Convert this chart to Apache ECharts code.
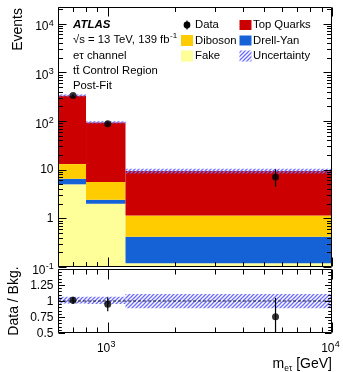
<!DOCTYPE html>
<html><head><meta charset="utf-8">
<script src="https://cdn.jsdelivr.net/npm/echarts@6/dist/echarts.min.js"></script>
<style>html,body{margin:0;padding:0;background:#fff;}#c{width:343px;height:372px;}</style>
</head><body><div id="c"></div>
<script>
// ---------------- data ----------------
const binEdges = [600, 800, 1200, 10000];
const fakeVals = [5.0, 2.0, 0.12];
const drellYanVals = [1.5, 0.4, 0.30];
const dibosonVals = [6.5, 3.2, 0.72];
const topQuarkVals = [317, 87.4, 8.26];
const uncLo = [0.96, 0.955, 0.885];
const uncHi = [1.065, 1.065, 1.11];
const dataX = [700, 1000, 5600];
const dataY = [334, 88, 7.1];
const dataLo = [316, 79, 4.5];
const dataHi = [352, 98, 10.2];
const ratioY = [1.01, 0.95, 0.755];
const ratioLo = [0.955, 0.84, 0.47];
const ratioHi = [1.065, 1.06, 1.05];
const yMainTickVals = [0.1, 1, 10, 100, 1000, 10000];
const yMainTickLabels = ['10^-1', '1', '10', '10^2', '10^3', '10^4'];
const yRatioTickVals = [0.5, 0.75, 1, 1.25];
const yRatioTickLabels = ['0.5', '0.75', '1', '1.25'];
const xTickVals = [1000, 10000];
const xTickLabels = ['10^3', '10^4'];

const X_MIN = 600, X_MAX = 10000, Y_MIN = 0.1, Y_MAX = 22000, R_MIN = 0.5, R_MAX = 1.5;
const FONT = '"Liberation Sans", Arial, Helvetica, sans-serif';
const LBL = 12, EXP = 9, LEG = 11.3, TITLE = 14;

const mctx = document.createElement('canvas').getContext('2d');
function tw(t, size, pre) { mctx.font = (pre || '') + ' ' + size + 'px ' + FONT; return mctx.measureText(t).width; }
function txt(x, y, text, size, align, valign, pre, extra) {
  return Object.assign({
    type: 'text', x: x, y: y, silent: true,
    style: { text: text, font: (pre || '') + ' ' + size + 'px ' + FONT, fill: '#000',
      align: align, textAlign: align, verticalAlign: valign, textVerticalAlign: valign }
  }, extra || {});
}
function seg(x1, y1, x2, y2, w) { return { type: 'line', silent: true, shape: { x1: x1, y1: y1, x2: x2, y2: y2 }, style: { stroke: '#000', lineWidth: w || 1 } }; }
function crisp(v) { return Math.round(v) + 0.5; }

function makeHatch() {
  const s = 4, c = document.createElement('canvas');
  c.width = s; c.height = s;
  const g = c.getContext('2d');
  g.strokeStyle = '#6b6bff'; g.lineWidth = 1.3;
  g.beginPath();
  g.moveTo(0, s); g.lineTo(s, 0);
  g.moveTo(-1, 1); g.lineTo(1, -1);
  g.moveTo(s - 1, s + 1); g.lineTo(s + 1, s - 1);
  g.stroke();
  return c;
}
const hatch = { image: makeHatch(), repeat: 'repeat' };

// ---------------- stacks ----------------
const components = [
  { name: 'Fake', vals: fakeVals, color: '#ffff99' },
  { name: 'Drell-Yan', vals: drellYanVals, color: '#1562d6' },
  { name: 'Diboson', vals: dibosonVals, color: '#ffcc00' },
  { name: 'Top Quarks', vals: topQuarkVals, color: '#cc0000' }
];
const totals = binEdges.slice(0, -1).map(() => 0);
function rectRenderer(fill) {
  return function (params, api) {
    const p1 = api.coord([api.value(0), api.value(3)]);
    const p2 = api.coord([api.value(1), api.value(2)]);
    return { type: 'rect', shape: { x: p1[0], y: p1[1], width: p2[0] - p1[0], height: p2[1] - p1[1] }, style: { fill: fill } };
  };
}
const stackSeries = components.map(c => {
  const data = c.vals.map((v, i) => {
    const lo = totals[i]; totals[i] += v;
    return [binEdges[i], binEdges[i + 1], lo === 0 ? Y_MIN : lo, totals[i]];
  });
  return { type: 'custom', name: c.name, xAxisIndex: 0, yAxisIndex: 0, z: 2, silent: true,
    encode: { x: [0, 1], y: [2, 3] }, data: data, renderItem: rectRenderer(c.color) };
});
const mainBand = totals.map((t, i) => [binEdges[i], binEdges[i + 1], t * uncLo[i], t * uncHi[i]]);
const ratioBand = uncLo.map((l, i) => [binEdges[i], binEdges[i + 1], l, uncHi[i]]);

function errRenderer(params, api) {
  const a = api.coord([api.value(0), api.value(1)]);
  const b = api.coord([api.value(0), api.value(2)]);
  return { type: 'line', shape: { x1: a[0], y1: a[1], x2: b[0], y2: b[1] }, style: { stroke: '#000', lineWidth: 1.2 } };
}

// ---------------- axes decoration ----------------
function pushXTicks(children, api, yAny, y0, y1, majL, minL) {
  for (let d = 2; d <= 4; d++) for (let m = 1; m <= 9; m++) {
    const v = m * Math.pow(10, d);
    if (v < X_MIN - 1e-6 || v > X_MAX + 1e-6) continue;
    const x = crisp(api.coord([v, yAny])[0]);
    const L = m === 1 ? majL : minL;
    children.push(seg(x, y1, x, y1 - L), seg(x, y0, x, y0 + L));
  }
}
function frameOf(cs) {
  const x0 = crisp(cs.x), y0 = crisp(cs.y), x1 = crisp(cs.x + cs.width - 1), y1 = crisp(cs.y + cs.height - 1);
  return { x0, y0, x1, y1 };
}
function renderMainAxes(params, api) {
  const f = frameOf(params.coordSys);
  const x0 = f.x0, x1 = f.x1, y0 = f.y0, y1 = f.y1;
  const ch = [];
  for (let d = -1; d <= 4; d++) for (let m = 1; m <= 9; m++) {
    const v = m * Math.pow(10, d);
    if (v < Y_MIN * 0.999 || v > Y_MAX) continue;
    const y = crisp(api.coord([X_MIN, v])[1]);
    const L = m === 1 ? 8 : 4.5;
    ch.push(seg(x0, y, x0 + L, y), seg(x1, y, x1 - L, y));
  }
  pushXTicks(ch, api, Y_MIN, y0, y1, 9, 4.5);
  yMainTickVals.forEach((v, i) => {
    const y = api.coord([X_MIN, v])[1];
    const parts = yMainTickLabels[i].split('^');
    const right = x0 - 5;
    if (parts[1]) {
      const ew = tw(parts[1], EXP);
      ch.push(txt(right - ew, y + 3.5, parts[0], LBL, 'right', 'middle'));
      ch.push(txt(right - ew + 0.3, y - 0.5, parts[1], EXP, 'left', 'middle'));
    } else ch.push(txt(right, y + 0.5, parts[0], LBL, 'right', 'middle'));
  });
  ch.push({ type: 'rect', silent: true, shape: { x: x0, y: y0, width: x1 - x0, height: y1 - y0 }, style: { fill: 'none', stroke: '#000', lineWidth: 1 } });
  return { type: 'group', children: ch };
}
function renderRatioAxes(params, api) {
  const f = frameOf(params.coordSys);
  const x0 = f.x0, x1 = f.x1, y0 = f.y0, y1 = f.y1;
  const ch = [];
  for (let k = 10; k <= 30; k++) {
    const v = k * 0.05;
    const y = crisp(api.coord([X_MIN, v])[1]);
    const L = k % 5 === 0 ? 6.5 : 3.3;
    ch.push(seg(x0, y, x0 + L, y), seg(x1, y, x1 - L, y));
  }
  pushXTicks(ch, api, 1, y0, y1, 10, 5);
  yRatioTickVals.forEach((v, i) => {
    const y = api.coord([X_MIN, v])[1];
    ch.push(txt(x0 - 5, y + 0.5, yRatioTickLabels[i], LBL, 'right', 'middle'));
  });
  xTickVals.forEach((v, i) => {
    const x = api.coord([v, 1])[0];
    const parts = xTickLabels[i].split('^');
    ch.push(txt(x + 2.5, y1 + 16.5, parts[0], LBL, 'right', 'middle'));
    ch.push(txt(x + 2.8, y1 + 12, parts[1], EXP, 'left', 'middle'));
  });
  ch.push({ type: 'rect', silent: true, shape: { x: x0, y: y0, width: x1 - x0, height: y1 - y0 }, style: { fill: 'none', stroke: '#000', lineWidth: 1 } });
  return { type: 'group', children: ch };
}

// ---------------- annotations / legend ----------------
const TX = 73;
const legCol1 = 181, legCol2 = 239.5, legRows = [25, 40.5, 56];
const graphics = [
  txt(18, 8, 'Events', TITLE, 'right', 'middle', '', { rotation: Math.PI / 2 }),
  txt(14, 301, 'Data / Bkg.', TITLE, 'center', 'middle', '', { rotation: Math.PI / 2 }),
  txt(TX, 24.5, 'ATLAS', 11.5, 'left', 'middle', 'italic bold'),
  txt(TX, 40, '\u221As = 13 TeV, 139 fb', LEG, 'left', 'middle'),
  txt(TX + tw('\u221As = 13 TeV, 139 fb', LEG) + 0.5, 36, '-1', 8, 'left', 'middle'),
  txt(TX, 55.5, 'e\u03C4 channel', LEG, 'left', 'middle'),
  txt(TX, 70.8, 't', LEG, 'left', 'middle'),
  txt(TX + tw('t', LEG), 70.8, 't\u0304 Control Region', LEG, 'left', 'middle'),
  txt(TX, 86, 'Post-Fit', LEG, 'left', 'middle'),
  // legend column 1
  { type: 'line', silent: true, shape: { x1: 187, y1: 20.5, x2: 187, y2: 29.5 }, style: { stroke: '#000', lineWidth: 1.2 } },
  { type: 'circle', silent: true, shape: { cx: 187, cy: legRows[0], r: 3.4 }, style: { fill: '#000' } },
  txt(195, legRows[0], 'Data', LEG, 'left', 'middle'),
  { type: 'rect', silent: true, shape: { x: legCol1, y: legRows[1] - 5.5, width: 12, height: 11 }, style: { fill: '#ffcc00' } },
  txt(195, legRows[1], 'Diboson', LEG, 'left', 'middle'),
  { type: 'rect', silent: true, shape: { x: legCol1, y: legRows[2] - 5.5, width: 12, height: 11 }, style: { fill: '#ffff99' } },
  txt(195, legRows[2], 'Fake', LEG, 'left', 'middle'),
  // legend column 2
  { type: 'rect', silent: true, shape: { x: legCol2, y: legRows[0] - 5, width: 12, height: 10 }, style: { fill: '#cc0000' } },
  txt(253, legRows[0], 'Top Quarks', LEG, 'left', 'middle'),
  { type: 'rect', silent: true, shape: { x: legCol2, y: legRows[1] - 5, width: 12, height: 10 }, style: { fill: '#1562d6' } },
  txt(253, legRows[1], 'Drell-Yan', LEG, 'left', 'middle'),
  { type: 'rect', silent: true, shape: { x: legCol2, y: legRows[2] - 5.5, width: 12, height: 11 }, style: { fill: hatch } },
  txt(253, legRows[2], 'Uncertainty', LEG, 'left', 'middle'),
  // x-axis title
  txt(332, 364, ' [GeV]', TITLE, 'right', 'middle'),
  txt(332 - tw(' [GeV]', TITLE), 368.5, 'e\u03C4', 8.5, 'right', 'middle'),
  txt(332 - tw(' [GeV]', TITLE) - tw('e\u03C4', 8.5), 364, 'm', TITLE, 'right', 'middle')
];

const hidden = { axisLine: { show: false }, axisTick: { show: false }, axisLabel: { show: false }, splitLine: { show: false } };
const option = {
  animation: false,
  backgroundColor: '#fff',
  grid: [
    { left: 58, right: 11, top: 7, height: 260, show: false },
    { left: 58, right: 11, top: 269, height: 64, show: false }
  ],
  xAxis: [
    Object.assign({ type: 'log', logBase: 10, min: X_MIN, max: X_MAX, gridIndex: 0 }, hidden),
    Object.assign({ type: 'log', logBase: 10, min: X_MIN, max: X_MAX, gridIndex: 1 }, hidden)
  ],
  yAxis: [
    Object.assign({ type: 'log', logBase: 10, min: Y_MIN, max: Y_MAX, gridIndex: 0 }, hidden),
    Object.assign({ type: 'value', min: R_MIN, max: R_MAX, gridIndex: 1 }, hidden)
  ],
  graphic: { elements: graphics },
  series: stackSeries.concat([
    { type: 'custom', name: 'Uncertainty', xAxisIndex: 0, yAxisIndex: 0, z: 3, silent: true,
      encode: { x: [0, 1], y: [2, 3] }, data: mainBand, renderItem: rectRenderer(hatch) },
    { type: 'custom', name: 'DataErr', xAxisIndex: 0, yAxisIndex: 0, z: 4, silent: true,
      encode: { x: 0, y: [1, 2] }, data: dataX.map((x, i) => [x, dataLo[i], dataHi[i]]), renderItem: errRenderer },
    { type: 'scatter', name: 'Data', xAxisIndex: 0, yAxisIndex: 0, z: 5, silent: true, symbol: 'circle', symbolSize: 7,
      itemStyle: { color: '#000' }, data: dataX.map((x, i) => [x, dataY[i]]) },
    { type: 'custom', name: 'RatioBand', xAxisIndex: 1, yAxisIndex: 1, z: 3, silent: true,
      encode: { x: [0, 1], y: [2, 3] }, data: ratioBand, renderItem: rectRenderer(hatch) },
    { type: 'line', name: 'One', xAxisIndex: 1, yAxisIndex: 1, z: 3, silent: true, symbol: 'none',
      lineStyle: { color: '#222', width: 1, type: [3, 2] }, data: [[X_MIN, 1], [X_MAX, 1]] },
    { type: 'custom', name: 'RatioErr', xAxisIndex: 1, yAxisIndex: 1, z: 4, silent: true,
      encode: { x: 0, y: [1, 2] }, data: dataX.map((x, i) => [x, Math.max(ratioLo[i], R_MIN), ratioHi[i]]), renderItem: errRenderer },
    { type: 'scatter', name: 'Ratio', xAxisIndex: 1, yAxisIndex: 1, z: 5, silent: true, symbol: 'circle', symbolSize: 7,
      itemStyle: { color: '#000' }, data: dataX.map((x, i) => [x, ratioY[i]]) },
    { type: 'custom', name: 'MainAxes', xAxisIndex: 0, yAxisIndex: 0, z: 10, silent: true,
      encode: { x: 0, y: 1 }, data: [[X_MIN, Y_MIN]], renderItem: renderMainAxes },
    { type: 'custom', name: 'RatioAxes', xAxisIndex: 1, yAxisIndex: 1, z: 10, silent: true,
      encode: { x: 0, y: 1 }, data: [[X_MIN, 1]], renderItem: renderRatioAxes }
  ])
};
const chart = echarts.init(document.getElementById('c'), null, { renderer: 'canvas' });
chart.setOption(option);
</script>
</body></html>
